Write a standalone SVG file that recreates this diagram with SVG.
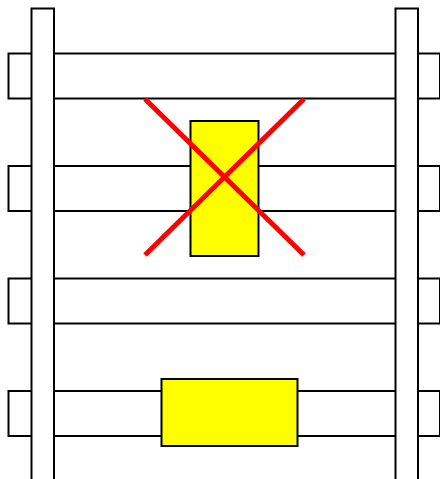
<svg xmlns="http://www.w3.org/2000/svg" width="440" height="479" viewBox="0 0 440 479">
<style>
.sl{fill:#fff;stroke:#000;stroke-width:2}
.rl{fill:#fff;stroke:#000;stroke-width:2}
.box{fill:#ff0;stroke:#000;stroke-width:2}
.x{stroke:#f00;stroke-width:5;fill:none}
</style>
<g id="sleepers">
<rect id="sleeper1" class="sl" x="8.5" y="53.5" width="431.5" height="45"/>
<rect id="sleeper2" class="sl" x="8.5" y="166" width="431.5" height="45"/>
<rect id="sleeper3" class="sl" x="8.5" y="278.5" width="431.5" height="45"/>
<rect id="sleeper4" class="sl" x="8.5" y="391" width="431.5" height="45"/>
</g>
<g id="rails">
<rect id="rail-left" class="rl" x="31.5" y="8.5" width="22.5" height="480"/>
<rect id="rail-right" class="rl" x="395.5" y="8.5" width="22.5" height="480"/>
</g>
<g id="wrong-tie">
<rect class="box" x="190.5" y="121" width="68" height="135"/>
</g>
<g id="cross">
<line class="x" x1="145" y1="99" x2="304" y2="255"/>
<line class="x" x1="304" y1="99" x2="145" y2="255"/>
</g>
<g id="right-tie">
<rect class="box" x="161.5" y="379" width="136" height="67"/>
</g>
</svg>
